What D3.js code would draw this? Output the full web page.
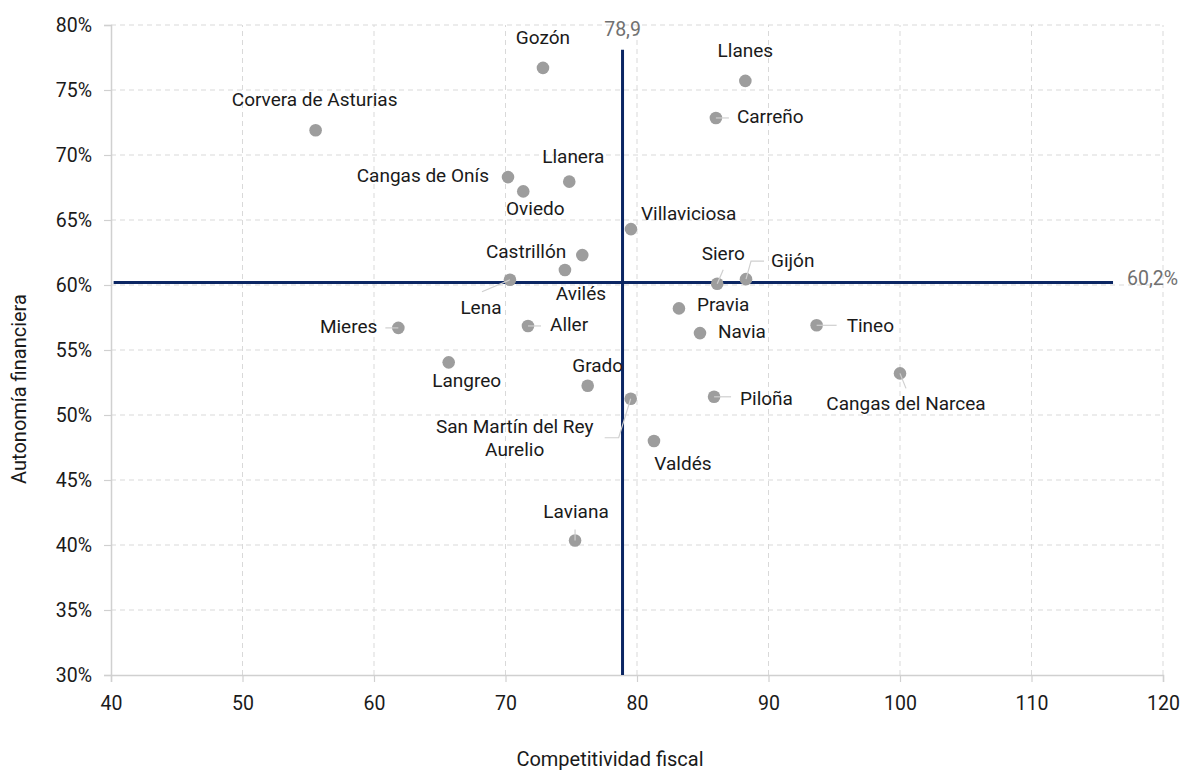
<!DOCTYPE html>
<html>
<head>
<meta charset="utf-8">
<script src="https://cdn.jsdelivr.net/npm/d3@7"></script>
<style>
  html, body { margin: 0; padding: 0; background: #fff; }
  svg text { font-family: Roboto, "Noto Sans", sans-serif; }
</style>
</head>
<body>
<svg id="chart" width="1186" height="772"></svg>
<script>
// Municipios de Asturias: competitividad fiscal frente a autonomía financiera
const municipios = [
  "Gozón", "Llanes", "Carreño", "Corvera de Asturias", "Cangas de Onís",
  "Oviedo", "Llanera", "Villaviciosa", "Castrillón", "Avilés",
  "Lena", "Mieres", "Aller", "Langreo", "Grado",
  "San Martín del Rey Aurelio", "Valdés", "Laviana", "Piloña", "Siero",
  "Gijón", "Pravia", "Navia", "Tineo", "Cangas del Narcea"
];
const competitividad = [
  72.85, 88.24, 86.0, 55.56, 70.19,
  71.35, 74.85, 79.54, 75.84, 74.52,
  70.34, 61.85, 71.71, 65.68, 76.25,
  79.52, 81.29, 75.29, 85.86, 86.1,
  88.29, 83.19, 84.79, 93.66, 100.0
];
const autonomia = [
  0.767, 0.757, 0.7285, 0.719, 0.683,
  0.672, 0.6795, 0.643, 0.623, 0.6115,
  0.604, 0.567, 0.5685, 0.5405, 0.5225,
  0.5125, 0.480, 0.4035, 0.514, 0.601,
  0.6045, 0.582, 0.563, 0.569, 0.532
];
const mediaCompetitividad = 78.9;
const mediaAutonomia = 0.602;

const xTicks = [40, 50, 60, 70, 80, 90, 100, 110, 120];
const yTicks = [0.30, 0.35, 0.40, 0.45, 0.50, 0.55, 0.60, 0.65, 0.70, 0.75, 0.80];

// Label placement relative to each point (pixels): offset, anchor, optional leader path
const etiquetas = {
  "Gozón":               { dx: 0,    dy: -29, anchor: "middle" },
  "Llanes":              { dx: 0,    dy: -29, anchor: "middle" },
  "Carreño":             { dx: 21,   dy: 0,   anchor: "start",  leader: [[0,0],[13,0]] },
  "Corvera de Asturias": { dx: -1,   dy: -29, anchor: "middle" },
  "Cangas de Onís":      { dx: -19,  dy: 0,   anchor: "end" },
  "Oviedo":              { dx: 12,   dy: 19,  anchor: "middle" },
  "Llanera":             { dx: 4,    dy: -24, anchor: "middle" },
  "Villaviciosa":        { dx: 10,   dy: -14, anchor: "start" },
  "Castrillón":          { dx: -16,  dy: -2,  anchor: "end" },
  "Avilés":              { dx: 16,   dy: 25,  anchor: "middle" },
  "Lena":                { dx: -29,  dy: 29,  anchor: "middle", leader: [[0,0],[-28,12]] },
  "Mieres":              { dx: -21,  dy: 0,   anchor: "end",    leader: [[0,0],[-13,0]] },
  "Aller":               { dx: 22,   dy: 0,   anchor: "start",  leader: [[0,0],[13,0]] },
  "Langreo":             { dx: 18,   dy: 20,  anchor: "middle" },
  "Grado":               { dx: 10,   dy: -19, anchor: "middle" },
  "San Martín del Rey Aurelio": { dx: -116, dy: 29, anchor: "middle",
                           lines: ["San Martín del Rey", "Aurelio"], leader: [[0,0],[-12,39],[-26,39]] },
  "Valdés":              { dx: 29,   dy: 24,  anchor: "middle" },
  "Laviana":             { dx: 1,    dy: -27, anchor: "middle", leader: [[0,0],[0,-11]] },
  "Piloña":              { dx: 26,   dy: 3,   anchor: "start",  leader: [[0,0],[17,0]] },
  "Siero":               { dx: 6,    dy: -29, anchor: "middle", leader: [[0,0],[6,-14]] },
  "Gijón":               { dx: 25,   dy: -17, anchor: "start",  leader: [[0,0],[5,-18],[18,-18]] },
  "Pravia":              { dx: 18,   dy: -2,  anchor: "start" },
  "Navia":               { dx: 18,   dy: 0,   anchor: "start" },
  "Tineo":               { dx: 30,   dy: 2,   anchor: "start",  leader: [[0,0],[20,0]] },
  "Cangas del Narcea":   { dx: 6,    dy: 32,  anchor: "middle", leader: [[0,0],[6,15]] }
};

const svg = d3.select("#chart");
const margin = { left: 111, right: 23, top: 25, bottom: 97 };
const W = 1186, H = 772;

const x = d3.scaleLinear().domain([40, 120]).range([margin.left, W - margin.right]);
const y = d3.scaleLinear().domain([0.30, 0.80]).range([H - margin.bottom, margin.top]);

const labelSize = 19;
const tickSize = 19.5;
const titleSize = 20;
const textColor = "#1a1a1a";
const gridColor = "#d9d9d9";

// Dashed grid
const grid = svg.append("g");
grid.selectAll("line.gx").data(xTicks.slice(1)).join("line")
  .attr("x1", d => x(d)).attr("x2", d => x(d))
  .attr("y1", y(0.30)).attr("y2", y(0.80))
  .attr("stroke", gridColor).attr("stroke-width", 1).attr("stroke-dasharray", "5,4");
grid.selectAll("line.gy").data(yTicks.slice(1)).join("line")
  .attr("x1", x(40)).attr("x2", x(120))
  .attr("y1", d => y(d)).attr("y2", d => y(d))
  .attr("stroke", gridColor).attr("stroke-width", 1).attr("stroke-dasharray", "5,4");

// Axes
const xAxis = svg.append("g")
  .attr("transform", `translate(0,${y(0.30)})`)
  .call(d3.axisBottom(x).tickValues(xTicks).tickFormat(d3.format("d")).tickSizeOuter(0).tickSize(7).tickPadding(14));
const yAxis = svg.append("g")
  .attr("transform", `translate(${x(40)},0)`)
  .call(d3.axisLeft(y).tickValues(yTicks).tickFormat(d3.format(".0%")).tickSizeOuter(0).tickSize(7).tickPadding(12));
[xAxis, yAxis].forEach(a => {
  a.select(".domain").attr("stroke", "#d0d0d0").attr("stroke-width", 1.5);
  a.selectAll(".tick line").attr("stroke", "#d0d0d0").attr("stroke-width", 1.2);
  a.selectAll(".tick text").attr("fill", textColor).style("font-size", `${tickSize}px`)
    .style("font-family", "Roboto, 'Noto Sans', sans-serif");
});

// Axis titles
svg.append("text")
  .attr("x", 610).attr("y", 761)
  .attr("text-anchor", "middle").attr("dominant-baseline", "middle")
  .attr("fill", textColor).style("font-size", `${titleSize}px`)
  .text("Competitividad fiscal");
svg.append("text")
  .attr("transform", `translate(21,${389}) rotate(-90)`)
  .attr("text-anchor", "middle").attr("dominant-baseline", "middle")
  .attr("fill", textColor).style("font-size", `${titleSize}px`)
  .text("Autonomía financiera");

// Average reference lines
const navy = "#0b2663";
svg.append("line")
  .attr("x1", x(mediaCompetitividad)).attr("x2", x(mediaCompetitividad))
  .attr("y1", y(0.30)).attr("y2", y(0.781))
  .attr("stroke", navy).attr("stroke-width", 3);
svg.append("line")
  .attr("x1", x(40.2)).attr("x2", x(116.2))
  .attr("y1", y(mediaAutonomia)).attr("y2", y(mediaAutonomia))
  .attr("stroke", navy).attr("stroke-width", 3);
svg.append("text")
  .attr("x", x(mediaCompetitividad)).attr("y", 31)
  .attr("text-anchor", "middle").attr("dominant-baseline", "middle")
  .attr("fill", "#707070").style("font-size", `${tickSize}px`)
  .text(d3.format(".1f")(mediaCompetitividad).replace(".", ","));
svg.append("text")
  .attr("x", x(116.2) + 14).attr("y", y(mediaAutonomia) - 3)
  .attr("text-anchor", "start").attr("dominant-baseline", "middle")
  .attr("fill", "#707070").style("font-size", `${tickSize}px`)
  .text(d3.format(".1%")(mediaAutonomia).replace(".", ","));

const puntos = municipios.map((m, i) => ({ nombre: m, cx: x(competitividad[i]), cy: y(autonomia[i]) }));

// Points
svg.append("g").selectAll("circle").data(puntos).join("circle")
  .attr("cx", d => d.cx).attr("cy", d => d.cy).attr("r", 6.3)
  .attr("fill", "#9d9d9d");

// Leader lines
const linea = d3.line();
svg.append("g").selectAll("path").data(puntos.filter(d => etiquetas[d.nombre].leader)).join("path")
  .attr("d", d => linea(etiquetas[d.nombre].leader.map(([a, b]) => [d.cx + a, d.cy + b])))
  .attr("fill", "none").attr("stroke", "#cfcfcf").attr("stroke-width", 1.2);

// Labels
const labels = svg.append("g").selectAll("text").data(puntos).join("text")
  .attr("x", d => d.cx + etiquetas[d.nombre].dx)
  .attr("y", d => d.cy + etiquetas[d.nombre].dy)
  .attr("text-anchor", d => etiquetas[d.nombre].anchor)
  .attr("dominant-baseline", "middle")
  .attr("fill", textColor).style("font-size", `${labelSize}px`);
labels.each(function (d) {
  const lines = etiquetas[d.nombre].lines || [d.nombre];
  const t = d3.select(this);
  if (lines.length === 1) { t.text(lines[0]); return; }
  lines.forEach((l, k) => {
    t.append("tspan").attr("x", d.cx + etiquetas[d.nombre].dx)
      .attr("dy", k === 0 ? 0 : 23).text(l);
  });
});
</script>
</body>
</html>
